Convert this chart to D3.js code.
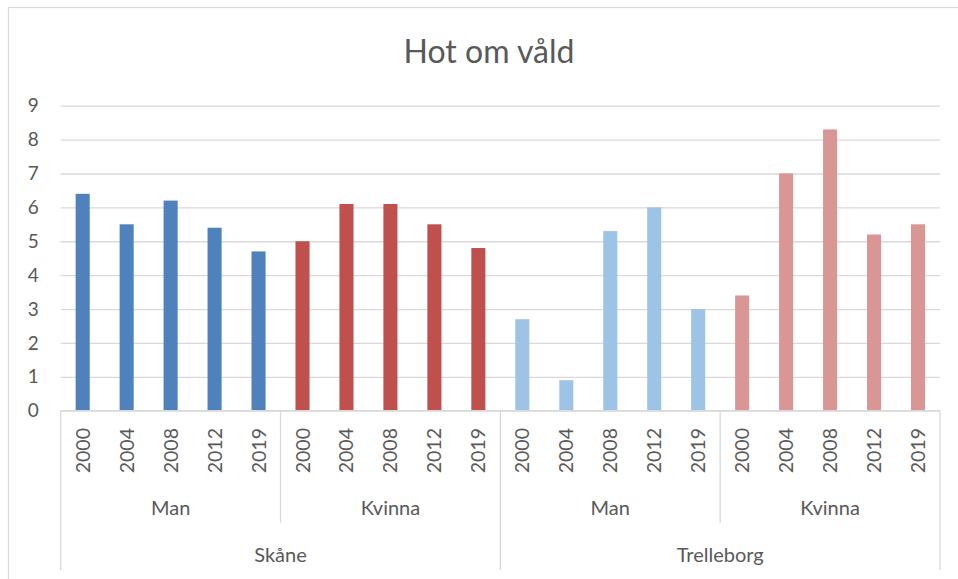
<!DOCTYPE html>
<html>
<head>
<meta charset="utf-8">
<script src="https://cdn.jsdelivr.net/npm/d3@7"></script>
<style>
  body { margin: 0; background: #fff; }
  svg text { font-family: Lato, "Open Sans", sans-serif; fill: #595959; }
</style>
</head>
<body>
<svg id="chart" width="958" height="579"></svg>
<script>
// Data
const regions = ['Skåne', 'Trelleborg'];
const genders = ['Man', 'Kvinna'];
const years = ['2000', '2004', '2008', '2012', '2019'];
const skaneMan = [6.4, 5.5, 6.2, 5.4, 4.7];
const skaneKvinna = [5.0, 6.1, 6.1, 5.5, 4.8];
const trelleborgMan = [2.7, 0.9, 5.3, 6.0, 3.0];
const trelleborgKvinna = [3.4, 7.0, 8.3, 5.2, 5.5];
const yTicks = [0, 1, 2, 3, 4, 5, 6, 7, 8, 9];

const series = [
    { region: 'Skåne', gender: 'Man', values: skaneMan, color: '#4F81BD' },
    { region: 'Skåne', gender: 'Kvinna', values: skaneKvinna, color: '#C0504D' },
    { region: 'Trelleborg', gender: 'Man', values: trelleborgMan, color: '#9DC3E6' },
    { region: 'Trelleborg', gender: 'Kvinna', values: trelleborgKvinna, color: '#DA9694' },
];

// flatten into one row per bar
const rows = [];
series.forEach((s, si) => {
    s.values.forEach((v, yi) => {
        rows.push({ key: si * 5 + yi, year: years[yi], value: v, color: s.color });
    });
});

const svg = d3.select('#chart');
const plotLeft = 60.7, plotRight = 940, plotTop = 105.7, plotBottom = 410.7;

// chart frame
svg.append('rect')
    .attr('x', 8.5).attr('y', 7.5)
    .attr('width', 960).attr('height', 600)
    .attr('fill', 'none')
    .attr('stroke', '#d9d9d9')
    .attr('stroke-width', 1.2);

svg.append('text')
    .attr('x', 489).attr('y', 63)
    .attr('text-anchor', 'middle')
    .style('font-size', '32px')
    .text('Hot om våld');

const x = d3.scaleBand()
    .domain(rows.map(d => d.key))
    .range([plotLeft, plotRight])
    .paddingInner(0.68)
    .paddingOuter(0.34);

const y = d3.scaleLinear()
    .domain([0, 9])
    .range([plotBottom, plotTop]);

// gridlines + y labels
svg.append('g')
    .attr('transform', `translate(${plotLeft},0)`)
    .call(d3.axisLeft(y).tickValues(yTicks).tickSize(-(plotRight - plotLeft)).tickFormat(d3.format('d')))
    .call(g => g.select('.domain').remove())
    .call(g => g.selectAll('line').attr('stroke', '#d9d9d9').attr('stroke-width', 1.3))
    .call(g => g.selectAll('text')
        .attr('x', -22)
        .attr('fill', '#595959')
        .style('font-size', '19px')
        .style('font-family', 'Lato, sans-serif'));

// bars
svg.append('g')
    .selectAll('rect')
    .data(rows)
    .join('rect')
    .attr('x', d => x(d.key))
    .attr('y', d => y(d.value))
    .attr('width', x.bandwidth())
    .attr('height', d => y(0) - y(d.value))
    .attr('fill', d => d.color);

// category axis line
svg.append('line')
    .attr('x1', plotLeft).attr('x2', plotRight)
    .attr('y1', plotBottom).attr('y2', plotBottom)
    .attr('stroke', '#d9d9d9').attr('stroke-width', 1.3);

// year labels
svg.append('g')
    .selectAll('text')
    .data(rows)
    .join('text')
    .attr('transform', d => `translate(${x(d.key) + x.bandwidth() / 2 + 7},428) rotate(-90)`)
    .attr('text-anchor', 'end')
    .style('font-size', '19.5px')
    .text(d => d.year);

// group separators and labels
const step = x.step();
const sep = svg.append('g').attr('stroke', '#d9d9d9').attr('stroke-width', 1.3);
series.forEach((s, si) => {
    const gx = plotLeft + si * 5 * step;
    const isRegionEdge = si % 2 === 0;
    sep.append('line')
        .attr('x1', gx).attr('x2', gx)
        .attr('y1', plotBottom).attr('y2', isRegionEdge ? 570 : 523);
    svg.append('text')
        .attr('x', gx + 2.5 * step)
        .attr('y', 515)
        .attr('text-anchor', 'middle')
        .style('font-size', '20px')
        .text(s.gender);
});
sep.append('line')
    .attr('x1', plotRight).attr('x2', plotRight)
    .attr('y1', plotBottom).attr('y2', 570);

regions.forEach((r, ri) => {
    svg.append('text')
        .attr('x', plotLeft + (ri * 10 + 5) * step)
        .attr('y', 562)
        .attr('text-anchor', 'middle')
        .style('font-size', '20px')
        .text(r);
});
</script>
</body>
</html>
